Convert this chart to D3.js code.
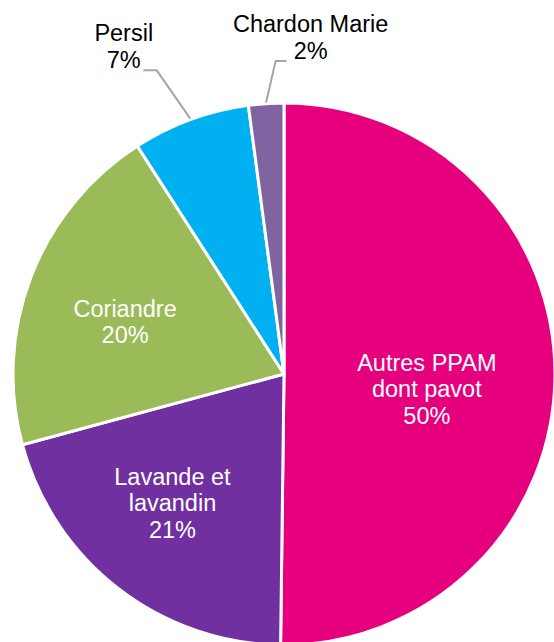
<!DOCTYPE html>
<html>
<head>
<meta charset="utf-8">
<script src="https://cdn.jsdelivr.net/npm/d3@7"></script>
<style>
  html, body { margin: 0; padding: 0; background: #fff; }
  svg { display: block; }
</style>
</head>
<body>
<div id="chart"></div>
<script>
// data
const categories = ["Autres PPAM dont pavot", "Lavande et lavandin", "Coriandre", "Persil", "Chardon Marie"];
const labelLines = [["Autres PPAM", "dont pavot"], ["Lavande et", "lavandin"], ["Coriandre"], ["Persil"], ["Chardon Marie"]];
const shares = [50.2, 20.6, 20.1, 7.0, 2.1];
const colors = ["#E6007E", "#7030A0", "#9BBB59", "#00B0F0", "#8064A2"];

// label placement: [radius factor, angle shift in degrees], outside = leader line
const labelLayout = [[0.53, 5.6], [0.63, 3], [0.617, -2.9], [1.346, -5.9], [1.247, 8.3]];
const outside = [false, false, false, true, true];

const width = 554;
const height = 642;
const cx = 284, cy = 374, R = 271;
const fs = 23.5, lh = 26.4;

const svg = d3.select("#chart").append("svg")
    .attr("width", width)
    .attr("height", height);

const g = svg.append("g").attr("transform", `translate(${cx},${cy})`);

const pie = d3.pie().sort(null).value(d => d);
const arcs = pie(shares);
const arc = d3.arc().innerRadius(0).outerRadius(R);

g.selectAll("path.slice")
    .data(arcs)
    .enter().append("path")
    .attr("class", "slice")
    .attr("d", arc)
    .attr("fill", (d, i) => colors[i])
    .attr("stroke", "#fff")
    .attr("stroke-width", 3)
    .attr("stroke-linejoin", "round");

function polar(r, a) {
    return [r * Math.sin(a), -r * Math.cos(a)];
}

const total = d3.sum(shares);

arcs.forEach((d, i) => {
    const mid = (d.startAngle + d.endAngle) / 2;
    const a = mid + labelLayout[i][1] * Math.PI / 180;
    const [lx, ly] = polar(R * labelLayout[i][0], a);
    const lines = labelLines[i].concat([Math.round(d.value / total * 100) + "%"]);
    const n = lines.length;
    const first = ly - (n - 1) / 2 * lh + 0.35 * fs;

    const t = g.append("text")
        .attr("text-anchor", "middle")
        .attr("font-family", "'Liberation Sans', Arial, sans-serif")
        .attr("font-size", fs)
        .attr("fill", outside[i] ? "#000" : "#fff");
    lines.forEach((s, j) => {
        t.append("tspan").attr("x", lx).attr("y", first + j * lh).text(s);
    });

    if (outside[i]) {
        const [ax, ay] = polar(R + 1, mid);
        const side = ax < lx ? -1 : 1;  // line leaves label toward the slice
        const endY = ly + 24;
        const endX = side < 0 ? lx - 24 : lx + 19.7;
        const elbowX = endX + (side < 0 ? -11 : 13.3);
        g.append("polyline")
            .attr("points", [[endX, endY], [elbowX, endY], [ax, ay]].map(p => p.join(",")).join(" "))
            .attr("fill", "none")
            .attr("stroke", "#A6A6A6")
            .attr("stroke-width", 2);
    }
});
</script>
</body>
</html>
